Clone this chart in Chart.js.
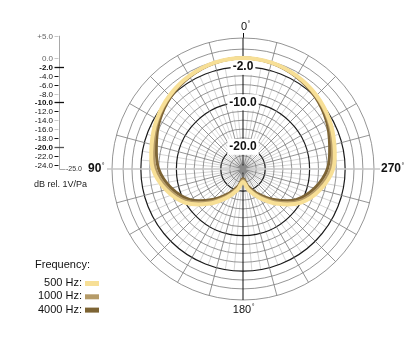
<!DOCTYPE html>
<html>
<head>
<meta charset="utf-8">
<script src="https://cdn.jsdelivr.net/npm/chart.js@4.4.1/dist/chart.umd.min.js"></script>
<style>
  html, body { margin: 0; padding: 0; background: #fff; }
</style>
</head>
<body>
<canvas id="polar" width="420" height="345"></canvas>
<script>
// pickup response in dB, 0° to 180° in 15° steps (the other side mirrors it)
const halfAngles = [0, 15, 30, 45, 60, 75, 90, 105, 120, 135, 150, 165, 180];
const resp500  = [0.0, -0.2, -0.8, -1.6, -2.6, -3.7, -4.7, -7.0, -9.9, -13.9, -17.5, -20.1, -22.1];
const resp1000 = [0.0, -0.2, -0.9, -1.8, -2.9, -4.2, -5.3, -7.6, -10.5, -14.6, -18.1, -20.6, -22.5];
const resp4000 = [0.0, -0.3, -1.0, -2.0, -3.3, -4.8, -6.0, -8.3, -11.2, -15.3, -18.7, -21.1, -22.8];

const seriesNames  = ['500 Hz', '1000 Hz', '4000 Hz'];
const seriesColors = ['#f7df96', '#b59b68', '#7d6434'];
const seriesWidths = [4, 3, 3];

// polar grid rings (dB) and the ones that get a label
const ringValues = [-25, -24, -22, -20, -18, -16, -14, -12, -10, -8, -6, -4, -2, 0, 2, 4.5];
const ringLabels = [-20, -10, -2];

// scale on the left
const sideTicks = [5, 0, -2, -4, -6, -8, -10, -12, -14, -16, -18, -20, -22, -24];
const sideLight = [5, 0, -8, -14, -16];

const axisLabels = [
  { text: '0', angle: 0 },
  { text: '90', angle: 90 },
  { text: '180', angle: 180 },
  { text: '270', angle: 270 }
];

// whole circle, index 0 at the top
function fullCircle(half) {
  const n = (half.length - 1) * 2;
  return Array.from({ length: n }, (_, i) => half[Math.min(i, n - i)]);
}
const spokeLabels = fullCircle(halfAngles).map((a, i) => String(i * 15));

const polarExtras = {
  id: 'polarExtras',
  beforeDraw(chart) {
    const r = chart.scales.r;
    const ctx = chart.ctx;
    const cx = r.xCenter, cy = r.yCenter;
    const inner = r.getDistanceFromCenterForValue(-2);
    const outer = r.drawingArea;
    ctx.save();
    // fine spokes every 5° inside the -2 dB ring
    ctx.strokeStyle = '#ababab';
    ctx.lineWidth = 0.5;
    for (let i = 0; i < 72; i++) {
      if (i % 3 === 0) continue;
      const a = i * Math.PI * 2 / 72 - Math.PI / 2;
      ctx.beginPath();
      ctx.moveTo(cx, cy);
      ctx.lineTo(cx + Math.cos(a) * inner, cy + Math.sin(a) * inner);
      ctx.stroke();
    }
    // 0° axis pokes out over the top
    ctx.strokeStyle = '#111';
    ctx.lineWidth = 1;
    ctx.beginPath();
    ctx.moveTo(Math.round(cx) + 0.5, cy - outer - 5);
    ctx.lineTo(Math.round(cx) + 0.5, cy - outer);
    ctx.stroke();
    ctx.restore();
  },
  beforeDatasetsDraw(chart) {
    const r = chart.scales.r;
    const ctx = chart.ctx;
    const cx = r.xCenter, cy = r.yCenter;
    const outer = r.drawingArea;
    ctx.save();
    // 90°-270° axis runs past the outer ring
    ctx.strokeStyle = '#c6c6c6';
    ctx.lineWidth = 1.5;
    ctx.beginPath();
    ctx.moveTo(cx - outer - 5, cy);
    ctx.lineTo(cx + outer + 6, cy);
    ctx.stroke();
    // grey hub where the spokes meet
    ctx.fillStyle = '#8a8a8a';
    ctx.beginPath();
    ctx.arc(cx, cy, 3.5, 0, Math.PI * 2);
    ctx.fill();
    ctx.restore();
  },
  afterDraw(chart) {
    const r = chart.scales.r;
    const ctx = chart.ctx;
    const cx = r.xCenter, cy = r.yCenter;
    const outer = r.drawingArea;
    const yOf = v => cy - r.getDistanceFromCenterForValue(v);
    ctx.save();

    // angle labels
    ctx.textBaseline = 'middle';
    ctx.fillStyle = '#111';
    axisLabels.forEach(l => {
      const side = l.angle === 90 || l.angle === 270;
      ctx.font = (side ? 'bold 12px' : '11px') + ' "Liberation Sans"';
      const w = ctx.measureText(l.text).width;
      let x, y;
      if (l.angle === 0) { x = cx - w / 2 + 1; y = cy - outer - 11; }
      else if (l.angle === 180) { x = cx - w / 2 - 1; y = cy + outer + 10; }
      else if (l.angle === 90) { x = cx - outer - 24; y = cy; }
      else { x = cx + outer + 7; y = cy; }
      ctx.textAlign = 'left';
      ctx.fillText(l.text, x, y);
      ctx.font = '7px "Liberation Sans"';
      ctx.fillText('°', x + w + 0.5, y - 3);
    });

    // dB scale on the left
    const ax = 59.5;
    ctx.strokeStyle = '#a8a8a8';
    ctx.lineWidth = 1;
    ctx.beginPath();
    ctx.moveTo(ax, yOf(5));
    ctx.lineTo(ax, Math.round(yOf(-25)) + 0.5);
    ctx.lineTo(ax + 6, Math.round(yOf(-25)) + 0.5);
    ctx.stroke();
    ctx.textAlign = 'right';
    sideTicks.forEach(v => {
      const y = Math.round(yOf(v)) + 0.5;
      const major = ringLabels.includes(v);
      const light = sideLight.includes(v);
      ctx.strokeStyle = light ? '#c8c8c8' : (v === -20 ? '#555' : '#111');
      ctx.lineWidth = major ? 1.3 : 1;
      ctx.beginPath();
      ctx.moveTo(54.5, y);
      ctx.lineTo(major ? 64 : 58.5, y);
      ctx.stroke();
      ctx.font = (major ? 'bold ' : '') + '8px "Liberation Sans"';
      ctx.fillStyle = v >= 0 ? '#666' : '#111';
      ctx.fillText((v > 0 ? '+' : '') + v.toFixed(1), 53, y);
    });
    ctx.textAlign = 'left';
    ctx.font = '7px "Liberation Sans"';
    ctx.fillStyle = '#333';
    ctx.fillText('-25.0', 66, yOf(-25) + 0.5);
    ctx.font = '9px "Liberation Sans"';
    ctx.fillStyle = '#222';
    ctx.fillText('dB rel. 1V/Pa', 34, 185);

    // frequency key
    ctx.font = '11px "Liberation Sans"';
    ctx.fillStyle = '#111';
    ctx.fillText('Frequency:', 35, 265);
    chart.data.datasets.forEach((ds, k) => {
      const y = 283 + k * 13.3;
      ctx.textAlign = 'right';
      ctx.fillStyle = '#111';
      ctx.fillText(ds.label + ':', 82, y);
      ctx.fillStyle = ds.borderColor;
      ctx.fillRect(85, y - 2, 14, 5);
    });
    ctx.restore();
  }
};

new Chart(document.getElementById('polar'), {
  type: 'radar',
  data: {
    labels: spokeLabels,
    datasets: [resp500, resp1000, resp4000].map((half, k) => ({
      label: seriesNames[k],
      data: fullCircle(half),
      borderColor: seriesColors[k],
      borderWidth: seriesWidths[k],
      pointRadius: 0,
      fill: false,
      tension: 0.35
    }))
  },
  options: {
    responsive: false,
    animation: false,
    layout: { padding: { left: 104, right: 38, top: 30, bottom: 37 } },
    plugins: { legend: { display: false }, tooltip: { enabled: false } },
    scales: {
      r: {
        min: -25,
        max: 4.5,
        afterBuildTicks: scale => { scale.ticks = ringValues.map(v => ({ value: v })); },
        grid: {
          circular: true,
          color: c => ringLabels.includes(c.tick.value) ? '#1a1a1a' : '#7a7a7a',
          lineWidth: c => ringLabels.includes(c.tick.value) ? 1.2 : 0.8
        },
        angleLines: {
          color: c => (c.index % 12 === 0) ? '#111' : (c.index % 6 === 0 ? 'rgba(0,0,0,0)' : '#7a7a7a'),
          lineWidth: c => (c.index % 12 === 0) ? 1 : 0.8
        },
        pointLabels: { display: false },
        ticks: {
          autoSkip: false,
          callback: v => ringLabels.includes(v) ? v.toFixed(1) : '',
          color: '#111',
          font: { family: 'Liberation Sans', size: 12, weight: 'bold' },
          backdropColor: c => ringLabels.includes(c.tick.value) ? '#fff' : 'rgba(0,0,0,0)',
          backdropPadding: 2
        }
      }
    }
  },
  plugins: [polarExtras]
});
</script>
</body>
</html>
